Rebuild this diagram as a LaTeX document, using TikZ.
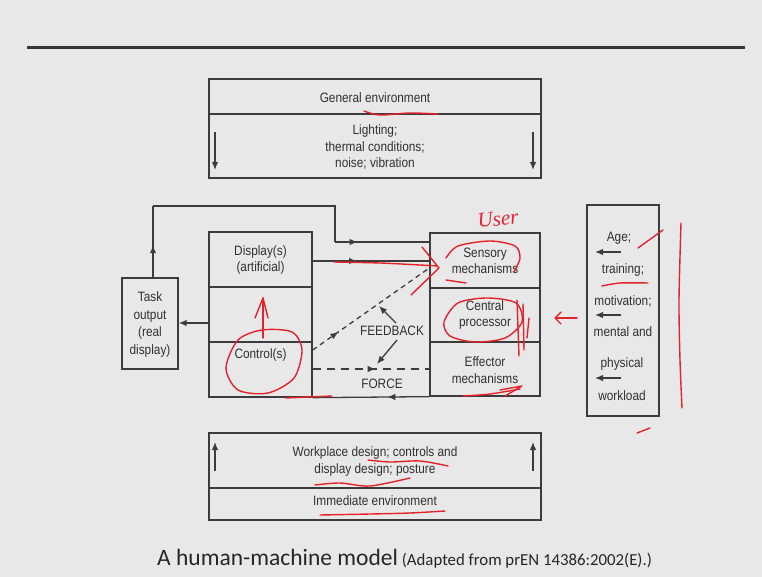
\documentclass[tikz,border=0pt]{standalone}
\usepackage{fontspec}
\setmainfont{Liberation Sans}[FakeStretch=0.87]
\newfontfamily\capfont{Carlito}
\newfontfamily\handfont{Liberation Serif}
\usetikzlibrary{arrows.meta,decorations.markings}
\definecolor{bgc}{HTML}{E8E8E8}
\definecolor{linec}{HTML}{3C3C3C}
\definecolor{txtc}{HTML}{303030}
\definecolor{pen}{HTML}{E3222B}
\newcommand{\diagfont}{\fontsize{13.6}{16.5}\selectfont}
\tikzset{
  box/.style={draw=linec, line width=1.3pt, inner sep=0pt, minimum width=#1},
  lbl/.style={text=txtc, font=\diagfont, align=center, inner sep=0pt},
  conn/.style={draw=linec, line width=1.3pt},
  tip/.style={-{Latex[length=8pt,width=6.5pt]}},
  midarrow/.style={postaction={decorate}, decoration={markings,
      mark=at position #1 with {\arrow{Latex[length=8pt,width=6.5pt]}}}},
  ink/.style={draw=pen, line width=1.4pt, line cap=round, line join=round},
}
\begin{document}
\begin{tikzpicture}[x=1pt, y=-1pt]
  % canvas
  \fill[bgc] (0,0) rectangle (762,577);
  \useasboundingbox (0,0) rectangle (762,577);
  \draw[line width=3pt, draw=linec!90!black] (27,48) -- (745,48);

  % general environment (top)
  \node[box=332pt, minimum height=99pt] (genv) at (375,128.5) {};
  \draw[conn] (209,114) -- (541,114);
  \node[lbl] (genvt) at (375,97.5) {General environment};
  \node[lbl, align=center] (genvl) at (375,147)
      {Lighting;\\thermal conditions;\\noise; vibration};
  \coordinate (gdl1) at (215,132); \coordinate (gdl2) at (215,170);
  \coordinate (gdr1) at (533,132); \coordinate (gdr2) at (533,170);
  \draw[conn, tip] (gdl1) -- (gdl2);
  \draw[conn, tip] (gdr1) -- (gdr2);

  % machine side
  \node[box=103pt, minimum height=165pt] (mach) at (260.5,314.5) {};
  \draw[conn] (209,287) -- (312,287);
  \draw[conn] (209,342) -- (312,342);
  \node[lbl] (disp) at (260.5,260) {Display(s)\\(artificial)};
  \node[lbl] (ctrl) at (260.5,355) {Control(s)};

  % task output
  \node[box=56pt, minimum height=91pt] (task) at (150,323.5) {};
  \node[lbl, align=center] (taskt) at (150,324.5)
      {Task\\[1pt]output\\[1pt](real\\[1pt]display)};

  % human side
  \node[box=110pt, minimum height=163pt] (human) at (485,314.5) {};
  \draw[conn] (430,288) -- (540,288);
  \draw[conn] (430,342) -- (540,342);
  \node[lbl] (sens) at (485,261) {Sensory\\mechanisms};
  \node[lbl] (cpu)  at (485,315) {Central\\processor};
  \node[lbl] (eff)  at (485,370) {Effector\\mechanisms};

  % personal factors
  \node[box=72pt, minimum height=211pt] (pers) at (623,310.5) {};
  \node[lbl] (p1) at (619,238) {Age;};
  \node[lbl] (p2) at (623,270) {training;};
  \node[lbl] (p3) at (623,301) {motivation;};
  \node[lbl] (p4) at (623,332) {mental and};
  \node[lbl] (p5) at (622,364) {physical};
  \node[lbl] (p6) at (622,396) {workload};
  \foreach \yy/\nm in {252/a,315/b,378/c}{
    \coordinate (pa\nm) at (621,\yy); \coordinate (pb\nm) at (595,\yy);
    \draw[conn, tip] (pa\nm) -- (pb\nm);
  }

  % immediate environment (bottom)
  \node[box=332pt, minimum height=87pt] (ienv) at (375,476.5) {};
  \draw[conn] (209,488) -- (541,488);
  \node[lbl] (ienvt) at (375,461.5) {Workplace design; controls and\\display design; posture};
  \node[lbl] (ienvb) at (375,501) {Immediate environment};
  \coordinate (iul1) at (215,471); \coordinate (iul2) at (215,442);
  \coordinate (iur1) at (533,471); \coordinate (iur2) at (533,442);
  \draw[conn, tip] (iul1) -- (iul2);
  \draw[conn, tip] (iur1) -- (iur2);

  % connectors
  \draw[conn, tip] (mach.west |- 0,323) -- (task.east |- 0,323);
  \coordinate (lp1) at (153,206);
  \coordinate (lp2) at (335,206);
  \coordinate (lp3) at (335,242);
  \draw[conn, midarrow=0.45] (task.north -| 153,0) -- (lp1);
  \draw[conn] (lp1) -- (lp2) -- (lp3);
  \draw[conn, midarrow=0.24] (lp3) -- (human.west |- 0,242);
  \draw[conn, midarrow=0.38] (mach.east |- 0,261) -- (human.west |- 0,261);
  \draw[conn, dashed, dash pattern=on 5pt off 4pt, midarrow=0.22]
      (mach.east |- 0,350) -- (human.west |- 0,268);
  \draw[conn, dashed, dash pattern=on 8pt off 6pt, midarrow=0.54]
      (mach.east |- 0,369) -- (human.west |- 0,369);
  \draw[conn, midarrow=0.36] (human.south west) -- (mach.south east);
  \node[lbl] (fb) at (392,331) {FEEDBACK};
  \node[lbl] (force) at (382,384) {FORCE};
  \coordinate (fa1) at (396,323); \coordinate (fa2) at (379,306);
  \coordinate (fb1) at (397,340); \coordinate (fb2) at (377,364);
  \draw[conn, tip] (fa1) -- (fa2);
  \draw[conn, tip] (fb1) -- (fb2);

  % caption
  \node[anchor=base west, inner sep=0pt, text=black!85] (cap) at (157,565)
      {\capfont\fontsize{23.5}{26}\selectfont A human-machine model%
       \fontsize{16.8}{18}\selectfont\ (Adapted from prEN 14386:2002(E).)};

  % pen annotations
  \draw[ink] plot[smooth] coordinates {(364,111) (380,115) (410,113) (438,114)};
  \node[text=pen, font=\handfont\itshape\fontsize{21}{22}\selectfont, inner sep=0pt, rotate=6] (usr) at (498,219) {User};
  \draw[ink] plot[smooth] coordinates {(334,262) (380,263) (420,265) (437,266)};
  \draw[ink] (422,247) -- (439,268) -- (411,295);
  \draw[ink] plot[smooth] coordinates {(446,258) (458,246) (490,241) (515,246) (520,258) (514,272)};
  \draw[ink] (446,280) -- (466,283);
  \draw[ink] plot[smooth cycle] coordinates {(444,322) (458,303) (487,298) (516,303) (522,322) (505,338) (475,342) (450,336)};
  \draw[ink] (517,300) -- (519,356);
  \draw[ink] (523,304) -- (524,350);
  \draw[ink] (529,318) -- (527,338);
  \draw[ink] plot[smooth cycle] coordinates {(226,368) (238,340) (262,330) (292,332) (302,350) (294,378) (268,393) (238,390)};
  \draw[ink] (263,338) -- (263,298);
  \draw[ink] (255,318) -- (263,298) -- (268,318);
  \draw[ink] plot[smooth] coordinates {(463,396) (490,394) (520,389)};
  \draw[ink] (500,390) -- (522,386) -- (505,396);
  \draw[ink] (286,398) -- (332,396);
  \draw[ink] (577,318) -- (556,318);
  \draw[ink] (561,312) -- (555,318) -- (561,324);
  \draw[ink] plot[smooth] coordinates {(681,223) (679,300) (680,360) (682,408)};
  \draw[ink] (638,248) -- (663,230);
  \draw[ink] plot[smooth] coordinates {(602,286) (620,283) (648,283)};
  \draw[ink] (637,433) -- (650,428);
  \draw[ink] plot[smooth] coordinates {(368,460) (390,462) (420,461) (448,466)};
  \draw[ink] plot[smooth] coordinates {(315,485) (340,483) (370,486) (410,478)};
  \draw[ink] plot[smooth] coordinates {(320,515) (370,514) (410,513) (445,511)};
\end{tikzpicture}
\end{document}
